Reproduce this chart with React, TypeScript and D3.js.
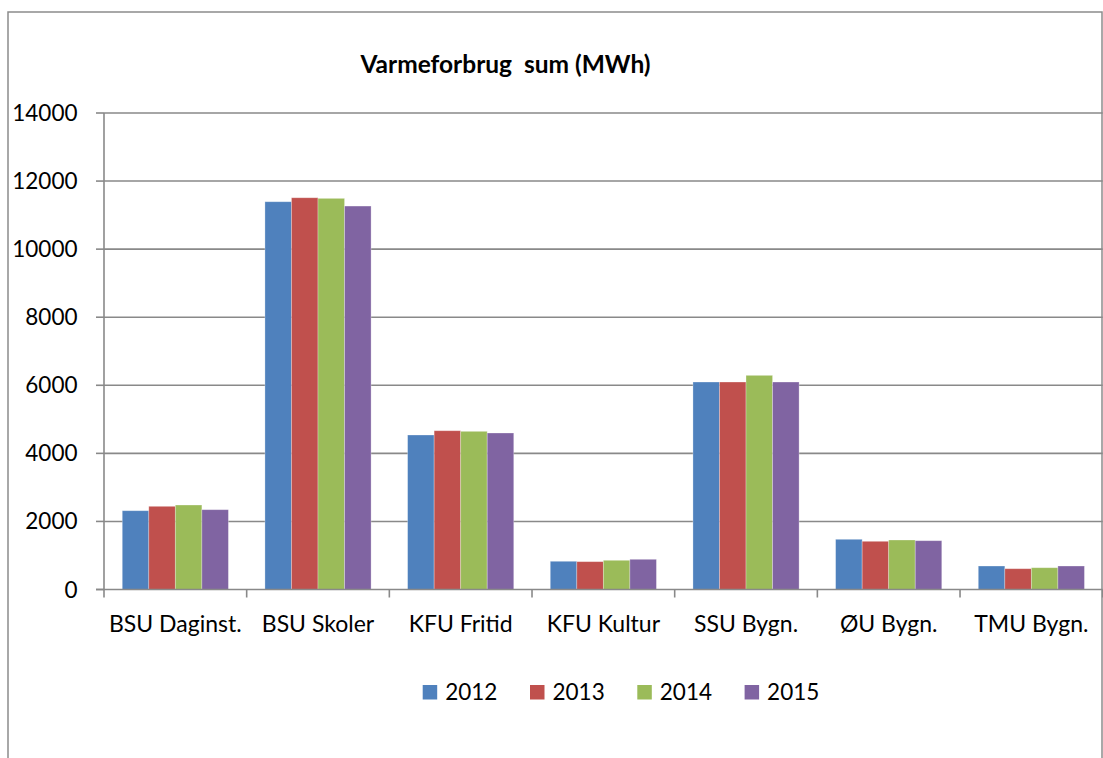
import React from "react";
import * as d3 from "d3";

const categories = ["BSU Daginst.", "BSU Skoler", "KFU Fritid", "KFU Kultur", "SSU Bygn.", "ØU Bygn.", "TMU Bygn."];
const seriesNames = ["2012", "2013", "2014", "2015"];
const s2012 = [2315, 11393, 4539, 829, 6096, 1475, 690];
const s2013 = [2444, 11510, 4665, 818, 6096, 1416, 611];
const s2014 = [2482, 11492, 4647, 858, 6292, 1454, 640];
const s2015 = [2345, 11266, 4598, 887, 6096, 1434, 690];
const seriesValues = [s2012, s2013, s2014, s2015];
const colors = ["#4F81BD", "#C0504D", "#9BBB59", "#8064A2"];
const yTicks = [0, 2000, 4000, 6000, 8000, 10000, 12000, 14000];
const title = "Varmeforbrug  sum (MWh)";

const W = 1103;
const H = 758;
const plotLeft = 104;
const plotRight = 1102.7;
const plotTop = 113;
const plotBottom = 589.5;
const FONT = "Lato, 'Open Sans', sans-serif";
const grid = "#898989";

export default function App() {
  const x = d3.scaleBand<string>().domain(categories).range([plotLeft, plotRight]).paddingInner(0).paddingOuter(0);
  const bw = x.bandwidth();
  const inner = d3.scaleBand<string>().domain(seriesNames).range([bw * 0.128, bw * (1 - 0.128)]).padding(0);
  const y = d3.scaleLinear().domain([0, 14000]).range([plotBottom, plotTop]);

  const legendX = d3.scaleLinear().domain([0, 1]).range([422.7, 530]);

  return (
    <svg width={W} height={H} style={{ position: "absolute", left: 0, top: 0, background: "#fff" }} fontFamily={FONT}>
      <rect x={0} y={0} width={W} height={H} fill="#fff" />
      {/* outer border */}
      <path d={`M8,${H + 5} L8,12 L1102,12 L1102,${H + 5}`} fill="none" stroke="#8c8c8c" strokeWidth={1.5} />
      {/* title */}
      <text x={505.5} y={73} textAnchor="middle" fontSize={24.5} fontWeight={700} fill="#000" style={{ whiteSpace: "pre" }}>
        {title}
      </text>
      {/* gridlines */}
      {yTicks.map((t) => (
        <g key={t}>
          {t > 0 && <line x1={plotLeft} x2={plotRight} y1={y(t)} y2={y(t)} stroke={grid} strokeWidth={1.6} />}
          <line x1={96} x2={plotLeft} y1={y(t)} y2={y(t)} stroke={grid} strokeWidth={1.6} />
          <text x={77.5} y={y(t) + 8} textAnchor="end" fontSize={22.5} fill="#000">
            {t}
          </text>
        </g>
      ))}
      {/* bars */}
      {categories.map((c, ci) => (
        <g key={c} transform={`translate(${x(c)},0)`}>
          {seriesNames.map((s, si) => {
            const v = seriesValues[si][ci];
            return (
              <rect
                key={s}
                x={inner(s)}
                y={y(v)}
                width={inner.bandwidth()}
                height={y(0) - y(v)}
                fill={colors[si]}
                stroke="#ffffff"
                strokeOpacity={0.35}
                strokeWidth={0.8}
              />
            );
          })}
        </g>
      ))}
      {/* y axis */}
      <line x1={plotLeft} x2={plotLeft} y1={plotTop} y2={plotBottom + 8} stroke={grid} strokeWidth={1.6} />
      {/* x axis */}
      <line x1={96} x2={plotRight} y1={plotBottom} y2={plotBottom} stroke={grid} strokeWidth={1.6} />
      {categories.map((c, i) => (
        <line key={"t" + i} x1={(x(c) as number) + bw} x2={(x(c) as number) + bw} y1={plotBottom} y2={plotBottom + 8} stroke={grid} strokeWidth={1.6} />
      ))}
      {categories.map((c) => (
        <text key={"l" + c} x={(x(c) as number) + bw / 2} y={631.5} textAnchor="middle" fontSize={23} fill="#000">
          {c}
        </text>
      ))}
      {/* legend */}
      {seriesNames.map((s, i) => (
        <g key={"lg" + s}>
          <rect x={legendX(i)} y={685} width={14.5} height={14.5} fill={colors[i]} />
          <text x={legendX(i) + 22.5} y={699.5} fontSize={22.5} fill="#000">
            {s}
          </text>
        </g>
      ))}
    </svg>
  );
}
